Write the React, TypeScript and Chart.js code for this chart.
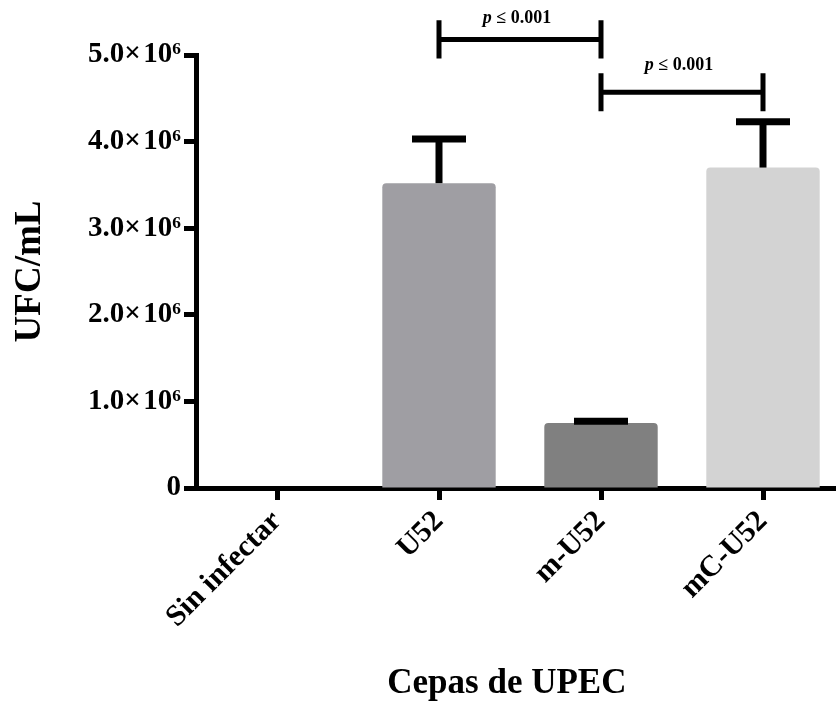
import React, { useEffect, useRef } from 'react';
import { Chart, registerables } from 'chart.js';

Chart.register(...registerables);

const categories = ['Sin infectar', 'U52', 'm-U52', 'mC-U52'];
const meanValues = [0, 3.52e6, 0.75e6, 3.7e6];
const errorTops = [0, 4.03e6, 0.77e6, 4.23e6];
const barColors = ['#ffffff', '#9f9ea3', '#808080', '#d3d3d3'];
const yMax = 5e6;
const yStep = 1e6;
const sigFrom = [1, 2];
const sigTo = [2, 3];
const sigLevels = [5.18e6, 4.57e6];
const sigHalfHeight = 0.22e6;
const sigPrefix = 'p';
const sigSuffix = ' \u2264 0.001';
const yTitle = 'UFC/mL';
const xTitle = 'Cepas de UPEC';

const FONT = '"Liberation Serif", "Times New Roman", serif';

const overlayPlugin = {
  id: 'overlay',
  afterDatasetsDraw(chart: any) {
    const { ctx, scales } = chart;
    const x = scales.x;
    const y = scales.y;
    ctx.save();
    ctx.strokeStyle = '#000';
    ctx.lineCap = 'butt';
    errorTops.forEach((top, i) => {
      if (top <= meanValues[i]) return;
      const cx = x.getPixelForValue(i);
      const yb = y.getPixelForValue(meanValues[i]);
      const yt = y.getPixelForValue(top);
      ctx.lineWidth = 7;
      ctx.beginPath();
      ctx.moveTo(cx, yb);
      ctx.lineTo(cx, yt);
      ctx.stroke();
      ctx.beginPath();
      ctx.moveTo(cx - 27, yt);
      ctx.lineTo(cx + 27, yt);
      ctx.stroke();
    });
    sigLevels.forEach((lvl, k) => {
      const x1 = x.getPixelForValue(sigFrom[k]);
      const x2 = x.getPixelForValue(sigTo[k]);
      const yl = y.getPixelForValue(lvl);
      const yTop = y.getPixelForValue(lvl + sigHalfHeight);
      const yBot = y.getPixelForValue(lvl - sigHalfHeight);
      ctx.lineWidth = 5;
      ctx.beginPath();
      ctx.moveTo(x1, yl);
      ctx.lineTo(x2, yl);
      ctx.moveTo(x1, yTop);
      ctx.lineTo(x1, yBot);
      ctx.moveTo(x2, yTop);
      ctx.lineTo(x2, yBot);
      ctx.stroke();
      const fItal = `italic bold 18px ${FONT}`;
      const fBold = `bold 18px ${FONT}`;
      ctx.font = fItal;
      const w1 = ctx.measureText(sigPrefix).width;
      ctx.font = fBold;
      const w2 = ctx.measureText(sigSuffix).width;
      const start = (x1 + x2) / 2 - (w1 + w2) / 2 - 3;
      const ty = yl - (k === 0 ? 16 : 22);
      ctx.fillStyle = '#000';
      ctx.textBaseline = 'alphabetic';
      ctx.textAlign = 'left';
      ctx.font = fItal;
      ctx.fillText(sigPrefix, start, ty);
      ctx.font = fBold;
      ctx.fillText(sigSuffix, start + w1, ty);
    });
    ctx.restore();
  },
};

export default function App() {
  const ref = useRef<HTMLCanvasElement | null>(null);
  useEffect(() => {
    if (!ref.current) return;
    const chart = new Chart(ref.current, {
      type: 'bar',
      data: {
        labels: categories,
        datasets: [
          {
            data: meanValues,
            backgroundColor: barColors,
            borderWidth: 0,
            borderRadius: 4,
            barPercentage: 0.7,
            categoryPercentage: 1,
          },
        ],
      },
      options: {
        responsive: false,
        animation: false,
        devicePixelRatio: 1,
        layout: { padding: { top: 55, left: 0, right: 2, bottom: 0 } },
        plugins: { legend: { display: false }, tooltip: { enabled: false } },
        scales: {
          x: {
            grid: {
              offset: false,
              drawOnChartArea: false,
              drawTicks: true,
              tickLength: 12,
              tickWidth: 5,
              tickColor: '#000',
            },
            border: { display: true, width: 5, color: '#000' },
            ticks: {
              autoSkip: false,
              maxRotation: 45,
              minRotation: 45,
              color: '#000',
              padding: 4,
              font: { family: FONT, size: 30, weight: 'bold' },
            },
            title: {
              display: true,
              text: xTitle + '\u00A0\u00A0\u00A0',
              color: '#000',
              padding: { top: 0, bottom: 1 },
              font: { family: FONT, size: 35, weight: 'bold' },
            },
            afterFit: (s: any) => {
              s.height = 218;
            },
          },
          y: {
            min: 0,
            max: yMax,
            grid: {
              drawOnChartArea: false,
              drawTicks: true,
              tickLength: 12,
              tickWidth: 5,
              tickColor: '#000',
            },
            border: { display: true, width: 5, color: '#000' },
            ticks: {
              stepSize: yStep,
              color: '#000',
              padding: 3,
              font: { family: FONT, size: 29, weight: 'bold' },
              callback: (v: any) =>
                Number(v) === 0 ? '0' : (Number(v) / 1e6).toFixed(1) + '\u00D7\u200A10\u2076',
            },
            title: {
              display: true,
              text: yTitle,
              color: '#000',
              padding: { top: 8, bottom: 0 },
              font: { family: FONT, size: 37, weight: 'bold' },
            },
            afterFit: (s: any) => {
              s.width = 196;
            },
          },
        },
      },
      plugins: [overlayPlugin],
    });
    return () => chart.destroy();
  }, []);
  return (
    <div
      style={{
        position: 'absolute',
        left: 0,
        top: 0,
        width: 836,
        height: 706,
        overflow: 'hidden',
        background: '#fff',
      }}
    >
      <canvas ref={ref} width={846} height={706} style={{ display: 'block' }} />
    </div>
  );
}
